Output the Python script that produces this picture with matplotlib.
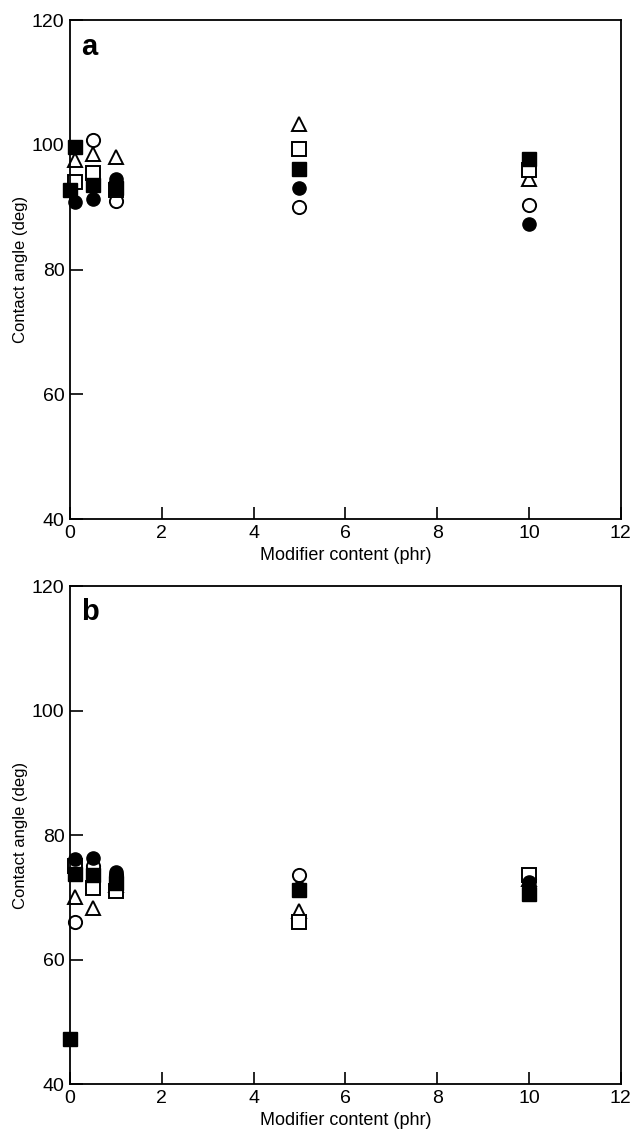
import matplotlib
matplotlib.use("Agg")
import matplotlib.pyplot as plt

plt.rcParams['font.family'] = ['Liberation Sans', 'DejaVu Sans']

# Panel a data
a_oc_x = [0.5, 1, 5, 10]
a_oc_y = [100.8, 91.0, 90.0, 90.3]
a_fc_x = [0.1, 0.5, 1, 5, 10]
a_fc_y = [90.8, 91.3, 94.5, 93.0, 87.3]
a_tr_x = [0.1, 0.5, 1, 5, 10]
a_tr_y = [97.5, 98.5, 98.0, 103.3, 94.5]
a_os_x = [0.1, 0.5, 1, 5, 10]
a_os_y = [94.0, 95.5, 92.8, 99.3, 96.0]
a_fs_x = [0, 0.1, 0.5, 1, 5, 10]
a_fs_y = [92.8, 99.6, 93.5, 93.0, 96.2, 97.8]

# Panel b data
b_oc_x = [0.1, 0.5, 1, 5, 10]
b_oc_y = [66.0, 75.0, 73.5, 73.6, 73.0]
b_fc_x = [0.1, 0.5, 1, 5, 10]
b_fc_y = [76.2, 76.3, 74.0, 71.5, 72.5]
b_tr_x = [0.1, 0.5, 1, 5, 10]
b_tr_y = [70.0, 68.3, 72.0, 67.8, 73.0]
b_os_x = [0.1, 0.5, 1, 5, 10]
b_os_y = [75.0, 71.5, 71.0, 66.0, 73.5]
b_fs_x = [0, 0.1, 0.5, 1, 5, 10]
b_fs_y = [47.2, 73.7, 73.5, 72.3, 71.2, 70.6]

x_ticks = [0, 2, 4, 6, 8, 10, 12]
y_ticks = [40, 60, 80, 100, 120]

fig = plt.figure(figsize=(6.36, 11.35), dpi=100)
ax_a = fig.add_axes([0.110, 0.5427, 0.866, 0.4396])
ax_b = fig.add_axes([0.110, 0.0449, 0.866, 0.4388])

ms = 9.5
def draw(ax, data, letter):
    (ocx, ocy), (fcx, fcy), (trx, try_), (osx, osy), (fsx, fsy) = data
    ax.plot(ocx, ocy, 'o', ms=ms, mfc='white', mec='black', mew=1.4, ls='none')
    ax.plot(trx, try_, '^', ms=ms+1, mfc='white', mec='black', mew=1.4, ls='none')
    ax.plot(osx, osy, 's', ms=ms, mfc='white', mec='black', mew=1.4, ls='none')
    ax.plot(fsx, fsy, 's', ms=ms, mfc='black', mec='black', ls='none')
    ax.plot(fcx, fcy, 'o', ms=ms, mfc='black', mec='black', ls='none')
    ax.set_xlim(0, 12)
    ax.set_ylim(40, 120)
    ax.set_xticks(x_ticks)
    ax.set_yticks(y_ticks)
    ax.tick_params(direction='in', length=9, width=1.2, labelsize=14, pad=4)
    for s in ax.spines.values():
        s.set_linewidth(1.3)
    ax.set_xlabel('Modifier content (phr)', fontsize=13, labelpad=4)
    ax.set_ylabel('Contact angle (deg)', fontsize=12, labelpad=3)
    ax.text(0.02, 0.975, letter, transform=ax.transAxes, fontsize=21,
            fontweight='bold', va='top', ha='left')

draw(ax_a, [(a_oc_x, a_oc_y), (a_fc_x, a_fc_y), (a_tr_x, a_tr_y),
            (a_os_x, a_os_y), (a_fs_x, a_fs_y)], 'a')
draw(ax_b, [(b_oc_x, b_oc_y), (b_fc_x, b_fc_y), (b_tr_x, b_tr_y),
            (b_os_x, b_os_y), (b_fs_x, b_fs_y)], 'b')

for ax in (ax_a, ax_b):
    for l in ax.lines:
        l.set_clip_on(False)

fig.savefig('out.png', dpi=100)
